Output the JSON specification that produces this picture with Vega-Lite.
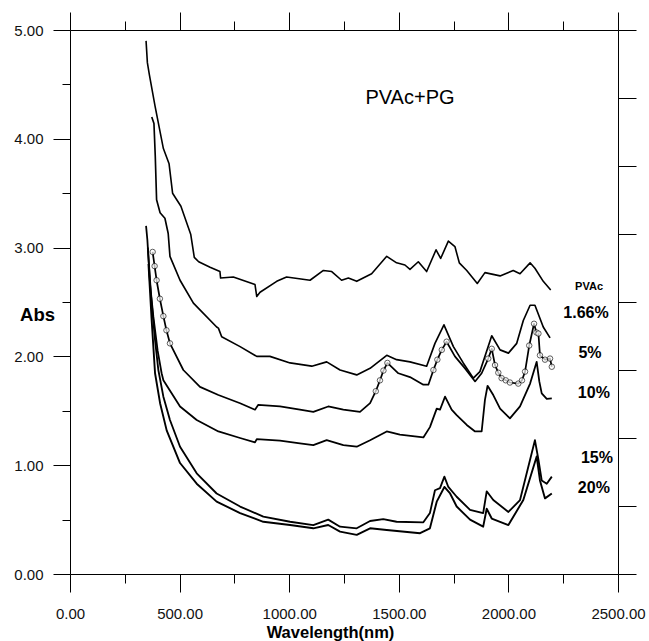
{
  "$schema": "https://vega.github.io/schema/vega-lite/v6.json",
  "width": 548,
  "height": 544,
  "autosize": "none",
  "padding": {"left": 70, "top": 30, "right": 31, "bottom": 67},
  "background": "white",
  "config": {
    "view": {"stroke": null},
    "font": "Liberation Sans",
    "axis": {"domainColor": "#000", "tickColor": "#000", "labelColor": "#111", "labelFont": "Liberation Sans", "labelFontSize": 15, "grid": false, "titleFont": "Liberation Sans", "titleColor": "#000", "domainWidth": 1, "tickWidth": 1}
  },
  "datasets": {
    "spectra": [
      {"series": "PVAc", "wavelength": 347, "abs": 4.90}, {"series": "PVAc", "wavelength": 353, "abs": 4.70}, {"series": "PVAc", "wavelength": 362, "abs": 4.59}, {"series": "PVAc", "wavelength": 388, "abs": 4.30}, {"series": "PVAc", "wavelength": 426, "abs": 3.91}, {"series": "PVAc", "wavelength": 452, "abs": 3.77}, {"series": "PVAc", "wavelength": 468, "abs": 3.50}, {"series": "PVAc", "wavelength": 506, "abs": 3.38}, {"series": "PVAc", "wavelength": 551, "abs": 3.12}, {"series": "PVAc", "wavelength": 567, "abs": 2.91}, {"series": "PVAc", "wavelength": 587, "abs": 2.87}, {"series": "PVAc", "wavelength": 639, "abs": 2.82}, {"series": "PVAc", "wavelength": 684, "abs": 2.78}, {"series": "PVAc", "wavelength": 687, "abs": 2.72}, {"series": "PVAc", "wavelength": 745, "abs": 2.73}, {"series": "PVAc", "wavelength": 844, "abs": 2.66}, {"series": "PVAc", "wavelength": 852, "abs": 2.55}, {"series": "PVAc", "wavelength": 867, "abs": 2.59}, {"series": "PVAc", "wavelength": 943, "abs": 2.69}, {"series": "PVAc", "wavelength": 988, "abs": 2.73}, {"series": "PVAc", "wavelength": 1095, "abs": 2.70}, {"series": "PVAc", "wavelength": 1156, "abs": 2.79}, {"series": "PVAc", "wavelength": 1194, "abs": 2.78}, {"series": "PVAc", "wavelength": 1239, "abs": 2.70}, {"series": "PVAc", "wavelength": 1270, "abs": 2.72}, {"series": "PVAc", "wavelength": 1308, "abs": 2.69}, {"series": "PVAc", "wavelength": 1376, "abs": 2.76}, {"series": "PVAc", "wavelength": 1445, "abs": 2.92}, {"series": "PVAc", "wavelength": 1490, "abs": 2.86}, {"series": "PVAc", "wavelength": 1528, "abs": 2.84}, {"series": "PVAc", "wavelength": 1551, "abs": 2.80}, {"series": "PVAc", "wavelength": 1589, "abs": 2.87}, {"series": "PVAc", "wavelength": 1627, "abs": 2.78}, {"series": "PVAc", "wavelength": 1670, "abs": 2.98}, {"series": "PVAc", "wavelength": 1691, "abs": 2.90}, {"series": "PVAc", "wavelength": 1726, "abs": 3.06}, {"series": "PVAc", "wavelength": 1756, "abs": 3.01}, {"series": "PVAc", "wavelength": 1776, "abs": 2.86}, {"series": "PVAc", "wavelength": 1810, "abs": 2.79}, {"series": "PVAc", "wavelength": 1858, "abs": 2.67}, {"series": "PVAc", "wavelength": 1893, "abs": 2.77}, {"series": "PVAc", "wavelength": 1962, "abs": 2.74}, {"series": "PVAc", "wavelength": 2022, "abs": 2.79}, {"series": "PVAc", "wavelength": 2053, "abs": 2.76}, {"series": "PVAc", "wavelength": 2099, "abs": 2.86}, {"series": "PVAc", "wavelength": 2121, "abs": 2.81}, {"series": "PVAc", "wavelength": 2159, "abs": 2.69}, {"series": "PVAc", "wavelength": 2193, "abs": 2.61},

      {"series": "1.66%", "wavelength": 373, "abs": 4.20}, {"series": "1.66%", "wavelength": 383, "abs": 4.14}, {"series": "1.66%", "wavelength": 389, "abs": 3.84}, {"series": "1.66%", "wavelength": 395, "abs": 3.44}, {"series": "1.66%", "wavelength": 411, "abs": 3.32}, {"series": "1.66%", "wavelength": 433, "abs": 3.27}, {"series": "1.66%", "wavelength": 448, "abs": 3.13}, {"series": "1.66%", "wavelength": 456, "abs": 2.92}, {"series": "1.66%", "wavelength": 502, "abs": 2.70}, {"series": "1.66%", "wavelength": 563, "abs": 2.49}, {"series": "1.66%", "wavelength": 669, "abs": 2.27}, {"series": "1.66%", "wavelength": 677, "abs": 2.26}, {"series": "1.66%", "wavelength": 692, "abs": 2.18}, {"series": "1.66%", "wavelength": 776, "abs": 2.09}, {"series": "1.66%", "wavelength": 852, "abs": 2.00}, {"series": "1.66%", "wavelength": 912, "abs": 2.00}, {"series": "1.66%", "wavelength": 1004, "abs": 1.94}, {"series": "1.66%", "wavelength": 1103, "abs": 1.91}, {"series": "1.66%", "wavelength": 1171, "abs": 1.95}, {"series": "1.66%", "wavelength": 1232, "abs": 1.875}, {"series": "1.66%", "wavelength": 1308, "abs": 1.83}, {"series": "1.66%", "wavelength": 1369, "abs": 1.89}, {"series": "1.66%", "wavelength": 1445, "abs": 2.01}, {"series": "1.66%", "wavelength": 1490, "abs": 1.97}, {"series": "1.66%", "wavelength": 1551, "abs": 1.95}, {"series": "1.66%", "wavelength": 1627, "abs": 1.91}, {"series": "1.66%", "wavelength": 1665, "abs": 2.12}, {"series": "1.66%", "wavelength": 1706, "abs": 2.29}, {"series": "1.66%", "wavelength": 1749, "abs": 2.09}, {"series": "1.66%", "wavelength": 1794, "abs": 1.94}, {"series": "1.66%", "wavelength": 1840, "abs": 1.80}, {"series": "1.66%", "wavelength": 1870, "abs": 1.86}, {"series": "1.66%", "wavelength": 1924, "abs": 2.19}, {"series": "1.66%", "wavelength": 1962, "abs": 2.06}, {"series": "1.66%", "wavelength": 2000, "abs": 2.03}, {"series": "1.66%", "wavelength": 2038, "abs": 2.12}, {"series": "1.66%", "wavelength": 2068, "abs": 2.33}, {"series": "1.66%", "wavelength": 2099, "abs": 2.47}, {"series": "1.66%", "wavelength": 2121, "abs": 2.47}, {"series": "1.66%", "wavelength": 2159, "abs": 2.27}, {"series": "1.66%", "wavelength": 2190, "abs": 2.17},

      {"series": "5%", "wavelength": 377, "abs": 2.96}, {"series": "5%", "wavelength": 386, "abs": 2.83}, {"series": "5%", "wavelength": 395, "abs": 2.70}, {"series": "5%", "wavelength": 410, "abs": 2.53}, {"series": "5%", "wavelength": 426, "abs": 2.37}, {"series": "5%", "wavelength": 440, "abs": 2.24}, {"series": "5%", "wavelength": 456, "abs": 2.12}, {"series": "5%", "wavelength": 517, "abs": 1.875}, {"series": "5%", "wavelength": 593, "abs": 1.72}, {"series": "5%", "wavelength": 677, "abs": 1.645}, {"series": "5%", "wavelength": 776, "abs": 1.57}, {"series": "5%", "wavelength": 844, "abs": 1.51}, {"series": "5%", "wavelength": 859, "abs": 1.555}, {"series": "5%", "wavelength": 958, "abs": 1.54}, {"series": "5%", "wavelength": 1049, "abs": 1.51}, {"series": "5%", "wavelength": 1110, "abs": 1.49}, {"series": "5%", "wavelength": 1178, "abs": 1.54}, {"series": "5%", "wavelength": 1247, "abs": 1.51}, {"series": "5%", "wavelength": 1323, "abs": 1.49}, {"series": "5%", "wavelength": 1369, "abs": 1.57}, {"series": "5%", "wavelength": 1395, "abs": 1.68}, {"series": "5%", "wavelength": 1414, "abs": 1.78}, {"series": "5%", "wavelength": 1430, "abs": 1.87}, {"series": "5%", "wavelength": 1448, "abs": 1.94}, {"series": "5%", "wavelength": 1498, "abs": 1.845}, {"series": "5%", "wavelength": 1551, "abs": 1.81}, {"series": "5%", "wavelength": 1612, "abs": 1.74}, {"series": "5%", "wavelength": 1635, "abs": 1.74}, {"series": "5%", "wavelength": 1658, "abs": 1.875}, {"series": "5%", "wavelength": 1676, "abs": 1.97}, {"series": "5%", "wavelength": 1696, "abs": 2.06}, {"series": "5%", "wavelength": 1718, "abs": 2.135}, {"series": "5%", "wavelength": 1756, "abs": 2.00}, {"series": "5%", "wavelength": 1802, "abs": 1.89}, {"series": "5%", "wavelength": 1848, "abs": 1.77}, {"series": "5%", "wavelength": 1878, "abs": 1.845}, {"series": "5%", "wavelength": 1908, "abs": 1.98}, {"series": "5%", "wavelength": 1924, "abs": 2.07}, {"series": "5%", "wavelength": 1939, "abs": 1.92}, {"series": "5%", "wavelength": 1954, "abs": 1.85}, {"series": "5%", "wavelength": 1969, "abs": 1.80}, {"series": "5%", "wavelength": 1988, "abs": 1.78}, {"series": "5%", "wavelength": 2007, "abs": 1.76}, {"series": "5%", "wavelength": 2045, "abs": 1.75}, {"series": "5%", "wavelength": 2062, "abs": 1.78}, {"series": "5%", "wavelength": 2076, "abs": 1.86}, {"series": "5%", "wavelength": 2095, "abs": 2.10}, {"series": "5%", "wavelength": 2117, "abs": 2.30}, {"series": "5%", "wavelength": 2128, "abs": 2.22}, {"series": "5%", "wavelength": 2137, "abs": 2.21}, {"series": "5%", "wavelength": 2144, "abs": 2.01}, {"series": "5%", "wavelength": 2167, "abs": 1.97}, {"series": "5%", "wavelength": 2190, "abs": 1.98}, {"series": "5%", "wavelength": 2198, "abs": 1.905},

      {"series": "10%", "wavelength": 347, "abs": 3.20}, {"series": "10%", "wavelength": 353, "abs": 3.07}, {"series": "10%", "wavelength": 365, "abs": 2.67}, {"series": "10%", "wavelength": 380, "abs": 2.37}, {"series": "10%", "wavelength": 400, "abs": 2.05}, {"series": "10%", "wavelength": 418, "abs": 1.845}, {"series": "10%", "wavelength": 426, "abs": 1.78}, {"series": "10%", "wavelength": 502, "abs": 1.54}, {"series": "10%", "wavelength": 578, "abs": 1.415}, {"series": "10%", "wavelength": 677, "abs": 1.31}, {"series": "10%", "wavelength": 776, "abs": 1.25}, {"series": "10%", "wavelength": 844, "abs": 1.21}, {"series": "10%", "wavelength": 852, "abs": 1.24}, {"series": "10%", "wavelength": 958, "abs": 1.225}, {"series": "10%", "wavelength": 1049, "abs": 1.20}, {"series": "10%", "wavelength": 1110, "abs": 1.185}, {"series": "10%", "wavelength": 1171, "abs": 1.23}, {"series": "10%", "wavelength": 1247, "abs": 1.185}, {"series": "10%", "wavelength": 1308, "abs": 1.17}, {"series": "10%", "wavelength": 1369, "abs": 1.23}, {"series": "10%", "wavelength": 1445, "abs": 1.31}, {"series": "10%", "wavelength": 1505, "abs": 1.28}, {"series": "10%", "wavelength": 1612, "abs": 1.255}, {"series": "10%", "wavelength": 1642, "abs": 1.35}, {"series": "10%", "wavelength": 1673, "abs": 1.52}, {"series": "10%", "wavelength": 1688, "abs": 1.51}, {"series": "10%", "wavelength": 1711, "abs": 1.63}, {"series": "10%", "wavelength": 1741, "abs": 1.51}, {"series": "10%", "wavelength": 1764, "abs": 1.46}, {"series": "10%", "wavelength": 1810, "abs": 1.37}, {"series": "10%", "wavelength": 1848, "abs": 1.31}, {"series": "10%", "wavelength": 1878, "abs": 1.31}, {"series": "10%", "wavelength": 1893, "abs": 1.60}, {"series": "10%", "wavelength": 1905, "abs": 1.73}, {"series": "10%", "wavelength": 1931, "abs": 1.645}, {"series": "10%", "wavelength": 1962, "abs": 1.52}, {"series": "10%", "wavelength": 2007, "abs": 1.43}, {"series": "10%", "wavelength": 2053, "abs": 1.54}, {"series": "10%", "wavelength": 2099, "abs": 1.75}, {"series": "10%", "wavelength": 2129, "abs": 1.95}, {"series": "10%", "wavelength": 2141, "abs": 1.77}, {"series": "10%", "wavelength": 2152, "abs": 1.66}, {"series": "10%", "wavelength": 2175, "abs": 1.61}, {"series": "10%", "wavelength": 2198, "abs": 1.615},

      {"series": "15%", "wavelength": 355, "abs": 3.00}, {"series": "15%", "wavelength": 370, "abs": 2.55}, {"series": "15%", "wavelength": 388, "abs": 2.15}, {"series": "15%", "wavelength": 403, "abs": 1.875}, {"series": "15%", "wavelength": 426, "abs": 1.63}, {"series": "15%", "wavelength": 456, "abs": 1.415}, {"series": "15%", "wavelength": 502, "abs": 1.17}, {"series": "15%", "wavelength": 578, "abs": 0.925}, {"series": "15%", "wavelength": 669, "abs": 0.74}, {"series": "15%", "wavelength": 776, "abs": 0.62}, {"series": "15%", "wavelength": 882, "abs": 0.527}, {"series": "15%", "wavelength": 1004, "abs": 0.48}, {"series": "15%", "wavelength": 1110, "abs": 0.45}, {"series": "15%", "wavelength": 1178, "abs": 0.50}, {"series": "15%", "wavelength": 1232, "abs": 0.435}, {"series": "15%", "wavelength": 1308, "abs": 0.42}, {"series": "15%", "wavelength": 1369, "abs": 0.487}, {"series": "15%", "wavelength": 1429, "abs": 0.505}, {"series": "15%", "wavelength": 1490, "abs": 0.48}, {"series": "15%", "wavelength": 1612, "abs": 0.475}, {"series": "15%", "wavelength": 1642, "abs": 0.56}, {"series": "15%", "wavelength": 1665, "abs": 0.77}, {"series": "15%", "wavelength": 1688, "abs": 0.79}, {"series": "15%", "wavelength": 1708, "abs": 0.895}, {"series": "15%", "wavelength": 1726, "abs": 0.80}, {"series": "15%", "wavelength": 1764, "abs": 0.71}, {"series": "15%", "wavelength": 1825, "abs": 0.59}, {"series": "15%", "wavelength": 1885, "abs": 0.56}, {"series": "15%", "wavelength": 1901, "abs": 0.76}, {"series": "15%", "wavelength": 1931, "abs": 0.68}, {"series": "15%", "wavelength": 2000, "abs": 0.57}, {"series": "15%", "wavelength": 2053, "abs": 0.68}, {"series": "15%", "wavelength": 2121, "abs": 1.23}, {"series": "15%", "wavelength": 2137, "abs": 1.05}, {"series": "15%", "wavelength": 2152, "abs": 0.86}, {"series": "15%", "wavelength": 2175, "abs": 0.83}, {"series": "15%", "wavelength": 2198, "abs": 0.895},

      {"series": "20%", "wavelength": 358, "abs": 2.85}, {"series": "20%", "wavelength": 372, "abs": 2.35}, {"series": "20%", "wavelength": 388, "abs": 1.845}, {"series": "20%", "wavelength": 411, "abs": 1.57}, {"series": "20%", "wavelength": 441, "abs": 1.32}, {"series": "20%", "wavelength": 502, "abs": 1.02}, {"series": "20%", "wavelength": 578, "abs": 0.83}, {"series": "20%", "wavelength": 669, "abs": 0.665}, {"series": "20%", "wavelength": 776, "abs": 0.56}, {"series": "20%", "wavelength": 882, "abs": 0.48}, {"series": "20%", "wavelength": 1004, "abs": 0.45}, {"series": "20%", "wavelength": 1110, "abs": 0.42}, {"series": "20%", "wavelength": 1178, "abs": 0.45}, {"series": "20%", "wavelength": 1232, "abs": 0.39}, {"series": "20%", "wavelength": 1308, "abs": 0.36}, {"series": "20%", "wavelength": 1369, "abs": 0.42}, {"series": "20%", "wavelength": 1445, "abs": 0.405}, {"series": "20%", "wavelength": 1597, "abs": 0.375}, {"series": "20%", "wavelength": 1642, "abs": 0.42}, {"series": "20%", "wavelength": 1673, "abs": 0.665}, {"series": "20%", "wavelength": 1708, "abs": 0.80}, {"series": "20%", "wavelength": 1734, "abs": 0.74}, {"series": "20%", "wavelength": 1764, "abs": 0.62}, {"series": "20%", "wavelength": 1825, "abs": 0.50}, {"series": "20%", "wavelength": 1885, "abs": 0.435}, {"series": "20%", "wavelength": 1901, "abs": 0.60}, {"series": "20%", "wavelength": 1924, "abs": 0.51}, {"series": "20%", "wavelength": 2000, "abs": 0.45}, {"series": "20%", "wavelength": 2068, "abs": 0.68}, {"series": "20%", "wavelength": 2129, "abs": 1.08}, {"series": "20%", "wavelength": 2144, "abs": 0.86}, {"series": "20%", "wavelength": 2167, "abs": 0.695}, {"series": "20%", "wavelength": 2198, "abs": 0.74}
    ],
    "percents": [
      {"text": "1.66%", "wavelength": 2354, "abs": 2.40},
      {"text": "5%", "wavelength": 2372, "abs": 2.03},
      {"text": "10%", "wavelength": 2390, "abs": 1.66},
      {"text": "15%", "wavelength": 2404, "abs": 1.066},
      {"text": "20%", "wavelength": 2390, "abs": 0.79}
    ],
    "header": [{"text": "PVAc", "wavelength": 2368, "abs": 2.64}],
    "title": [{"text": "PVAc+PG", "wavelength": 1551, "abs": 4.375}]
  },
  "layer": [
    {
      "data": {"name": "spectra"},
      "mark": {"type": "line", "color": "black", "strokeJoin": "round"},
      "encoding": {
        "x": {"field": "wavelength", "type": "quantitative", "scale": {"domain": [0, 2500], "nice": false, "zero": false},
          "axis": {"orient": "bottom", "values": [0, 250, 500, 750, 1000, 1250, 1500, 1750, 2000, 2250, 2500],
            "tickSize": {"condition": {"test": "datum.value % 500 === 0", "value": 18}, "value": 9},
            "labelExpr": "datum.value % 500 === 0 ? format(datum.value, '.2f') : ''",
            "labelPadding": 14, "labelFlush": false, "labelOverlap": false,
            "title": "Wavelength(nm)", "titleFontWeight": "bold", "titleFontSize": 16.5,
            "titleX": 260, "titleY": 58, "titleBaseline": "middle", "titleAnchor": null, "titleAlign": "center"}},
        "y": {"field": "abs", "type": "quantitative", "scale": {"domain": [0, 5], "nice": false, "zero": false},
          "axis": {"orient": "left", "values": [0, 0.5, 1, 1.5, 2, 2.5, 3, 3.5, 4, 4.5, 5],
            "tickSize": {"condition": {"test": "datum.value % 1 === 0", "value": 17}, "value": 8},
            "labelExpr": "datum.value % 1 === 0 ? format(datum.value, '.2f') : ''",
            "labelPadding": 10, "labelFlush": false, "labelOverlap": false,
            "title": "Abs", "titleAngle": 0, "titleFontWeight": "bold", "titleFontSize": 18.5,
            "titleX": -33, "titleY": 284, "titleAlign": "center", "titleBaseline": "middle", "titleAnchor": null}},
        "detail": {"field": "series", "type": "nominal"},
        "strokeWidth": {"field": "series", "type": "nominal",
          "scale": {"domain": ["PVAc", "1.66%", "5%", "10%", "15%", "20%"], "range": [1.6, 1.9, 3.6, 1.3, 1.9, 1.9]}, "legend": null}
      }
    },
    {
      "data": {"name": "spectra"},
      "transform": [
        {"filter": "datum.series === '5%' && (datum.wavelength < 470 || (datum.wavelength > 1390 && datum.wavelength < 1460) || (datum.wavelength > 1650 && datum.wavelength < 1730) || datum.wavelength > 1900)"}
      ],
      "mark": {"type": "point", "shape": "circle", "filled": true, "fill": "white", "stroke": "black", "strokeWidth": 0.9, "size": 30},
      "encoding": {
        "x": {"field": "wavelength", "type": "quantitative", "axis": null},
        "y": {"field": "abs", "type": "quantitative", "axis": null}
      }
    },
    {
      "data": {"name": "title"},
      "mark": {"type": "text", "font": "Liberation Sans", "fontSize": 20, "color": "black", "align": "center", "baseline": "middle"},
      "encoding": {
        "x": {"field": "wavelength", "type": "quantitative", "axis": null},
        "y": {"field": "abs", "type": "quantitative", "axis": null},
        "text": {"field": "text"}
      }
    },
    {
      "data": {"name": "header"},
      "mark": {"type": "text", "font": "Liberation Sans", "fontSize": 11, "fontWeight": "bold", "color": "black", "align": "center", "baseline": "middle"},
      "encoding": {
        "x": {"field": "wavelength", "type": "quantitative", "axis": null},
        "y": {"field": "abs", "type": "quantitative", "axis": null},
        "text": {"field": "text"}
      }
    },
    {
      "data": {"name": "percents"},
      "mark": {"type": "text", "font": "Liberation Sans", "fontSize": 16, "fontWeight": "bold", "color": "black", "align": "center", "baseline": "middle"},
      "encoding": {
        "x": {"field": "wavelength", "type": "quantitative",
          "axis": {"orient": "top", "values": [0, 250, 500, 750, 1000, 1250, 1500, 1750, 2000, 2250, 2500],
            "tickSize": {"condition": {"test": "datum.value % 500 === 0", "value": 18}, "value": 9},
            "labels": false, "title": null}},
        "y": {"field": "abs", "type": "quantitative",
          "axis": {"orient": "right", "values": [0, 0.625, 1.25, 1.875, 2.5, 3.125, 3.75, 4.375, 5],
            "tickSize": 18, "labels": false, "title": null}},
        "text": {"field": "text"}
      }
    }
  ],
  "resolve": {"axis": {"x": "independent", "y": "independent"}}
}
